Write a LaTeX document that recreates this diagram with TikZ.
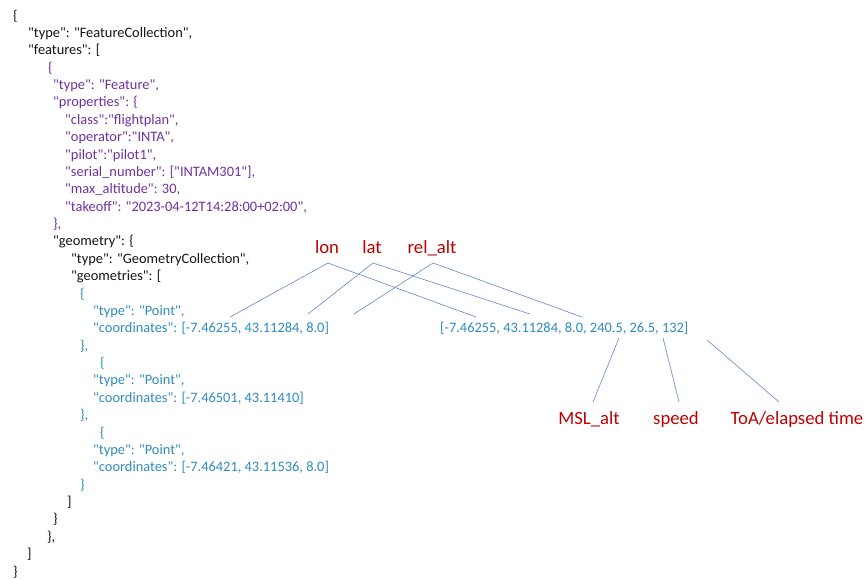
\documentclass[tikz,border=0pt]{standalone}
\usepackage{fontspec}
\setmainfont{Carlito}[Ligatures=TeXOff]
\definecolor{jblack}{RGB}{20,20,20}
\definecolor{jpurple}{RGB}{112,48,160}
\definecolor{jblue}{RGB}{46,139,192}
\definecolor{jred}{RGB}{192,0,0}
\definecolor{jline}{RGB}{100,135,200}
\begin{document}
\begin{tikzpicture}[x=1pt,y=-1pt,
  jt/.style={anchor=base west,inner sep=0pt,font=\fontsize{14.4}{17}\selectfont},
  jk/.style={jt,text=jblack},
  jp/.style={jt,text=jpurple},
  jb/.style={jt,text=jblue},
  lab/.style={anchor=base,inner sep=0pt,text=jred,font=\fontsize{18.7}{22}\selectfont},
  con/.style={draw=jline,line width=0.6pt}]
\useasboundingbox (0,0) rectangle (868,579);
% JSON lines: baseline = 15 + 17.375*i + 5
\node[jk] (l0)  at (13,20)      {\{};
\node[jk] (l1)  at (28,37.4)    {"type": "FeatureCollection",};
\node[jk] (l2)  at (28,54.75)   {"features": [};
\node[jp] (l3)  at (48,72.1)    {\{};
\node[jp] (l4)  at (53,89.5)    {"type": "Feature",};
\node[jp] (l5)  at (53,106.9)   {"properties": \{};
\node[jp] (l6)  at (65,124.25)  {"class":"flightplan",};
\node[jp] (l7)  at (65,141.6)   {"operator":"INTA",};
\node[jp] (l8)  at (65,159)     {"pilot":"pilot1",};
\node[jp] (l9)  at (65,176.4)   {"serial\_number": ["INTAM301"],};
\node[jp] (l10) at (65,193.75)  {"max\_altitude": 30,};
\node[jp] (l11) at (65,211.1)   {"takeoff": "2023-04-12T14:28:00+02:00",};
\node[jp] (l12) at (53,228.5)   {\},};
\node[jk] (l13) at (53,245.9)   {"geometry": \{};
\node[jk] (l14) at (71,263.25)  {"type": "GeometryCollection",};
\node[jk] (l15) at (71,280.6)   {"geometries": [};
\node[jb] (l16) at (80,298)     {\{};
\node[jb] (l17) at (93,315.4)   {"type": "Point",};
\node[jb] (l18) at (93,332.75)  {"coordinates": [-7.46255, 43.11284, 8.0]};
\node[jb] (l19) at (80,350.1)   {\},};
\node[jb] (l20) at (100,367.5)  {\{};
\node[jb] (l21) at (93,384.9)   {"type": "Point",};
\node[jb] (l22) at (93,402.25)  {"coordinates": [-7.46501, 43.11410]};
\node[jb] (l23) at (80,419.6)   {\},};
\node[jb] (l24) at (100,437)    {\{};
\node[jb] (l25) at (93,454.4)   {"type": "Point",};
\node[jb] (l26) at (93,471.75)  {"coordinates": [-7.46421, 43.11536, 8.0]};
\node[jb] (l27) at (80,489.1)   {\}};
\node[jk] (l28) at (67,506.5)   {]};
\node[jk] (l29) at (53,523.9)   {\}};
\node[jk] (l30) at (47,541.25)  {\},};
\node[jk] (l31) at (27,558.6)   {]};
\node[jk] (l32) at (13,576)     {\}};
% expanded coordinate string
\node[jb] (ext) at (440,332.5) {[-7.46255, 43.11284, 8.0, 240.5, 26.5, 132]};
% labels
\node[lab] (lon)  at (327,253.5) {lon};
\node[lab] (lat)  at (372,253.5) {lat};
\node[lab] (rel)  at (432,253.5) {rel\_alt};
\node[lab] (msl)  at (589,424.5) {MSL\_alt};
\node[lab] (spd)  at (676,424.5) {speed};
\node[lab] (toa)  at (797,424.5) {ToA/elapsed time};
% anchor points
\coordinate (lonT) at (328,263);
\coordinate (latT) at (373,263);
\coordinate (relT) at (433,263);
\coordinate (a1) at (230,317);
\coordinate (a2) at (308,314);
\coordinate (a3) at (354,314);
\coordinate (b1) at (476,317);
\coordinate (b2) at (530,314);
\coordinate (b3) at (582,317);
\coordinate (c1) at (619,338);
\coordinate (c2) at (663,338);
\coordinate (c3) at (707,340);
\coordinate (mslT) at (593,402);
\coordinate (spdT) at (679,402);
\coordinate (toaT) at (779,402);
\draw[con] (lonT) -- (a1);
\draw[con] (lonT) -- (b1);
\draw[con] (latT) -- (a2);
\draw[con] (latT) -- (b2);
\draw[con] (relT) -- (a3);
\draw[con] (relT) -- (b3);
\draw[con] (c1) -- (mslT);
\draw[con] (c2) -- (spdT);
\draw[con] (c3) -- (toaT);
\end{tikzpicture}
\end{document}
